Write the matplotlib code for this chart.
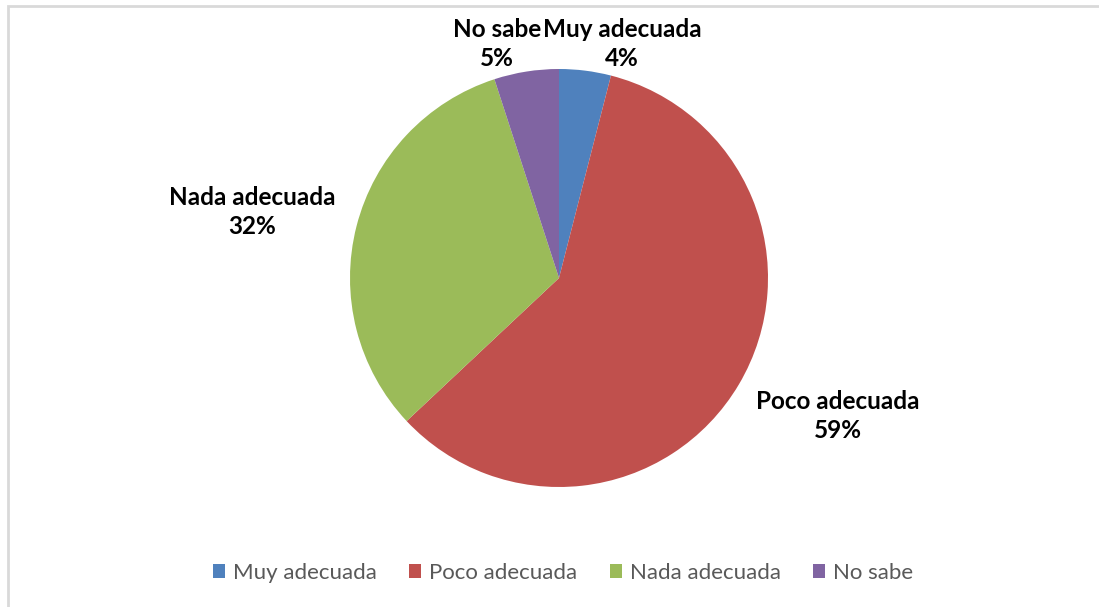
import matplotlib.pyplot as plt
from matplotlib.patches import Rectangle

categories = ["Muy adecuada", "Poco adecuada", "Nada adecuada", "No sabe"]
values = [4, 59, 32, 5]
colors = ["#4F81BD", "#C0504D", "#9BBB59", "#8064A2"]

W, H = 1099, 607
fig = plt.figure(figsize=(W / 100, H / 100), dpi=100)
ax = fig.add_axes([0, 0, 1, 1])

cx, cy, r = 559, H - 278, 209
wedges, _ = ax.pie(values, colors=colors, startangle=90, counterclock=False,
                   center=(cx, cy), radius=r, frame=True,
                   wedgeprops=dict(edgecolor="none"))
ax.set_xlim(0, W)
ax.set_ylim(0, H)
ax.axis("off")

# chart border
ax.add_patch(Rectangle((8, -5), W + 10, H - 6 + 5, fill=False,
                       edgecolor="#D9D9D9", linewidth=2))

label_pos = [(622, 44), (838, 416), (252, 212), (497, 44)]
font = "Lato"
for cat, v, (x, y) in zip(categories, values, label_pos):
    ax.text(x, H - y, f"{cat}\n{v}%", ha="center", va="center",
            fontsize=17.5, fontweight="bold", family=font,
            color="black", linespacing=1.32)

leg = ax.legend(wedges, categories, loc="center",
                bbox_to_anchor=(563, H - 573), bbox_transform=ax.transData,
                ncol=4, frameon=False,
                prop=dict(family=font, size=16),
                handlelength=0.55, handleheight=0.55, handletextpad=0.36,
                columnspacing=1.45)
for t in leg.get_texts():
    t.set_color("#595959")

fig.savefig("out.png", dpi=100)
